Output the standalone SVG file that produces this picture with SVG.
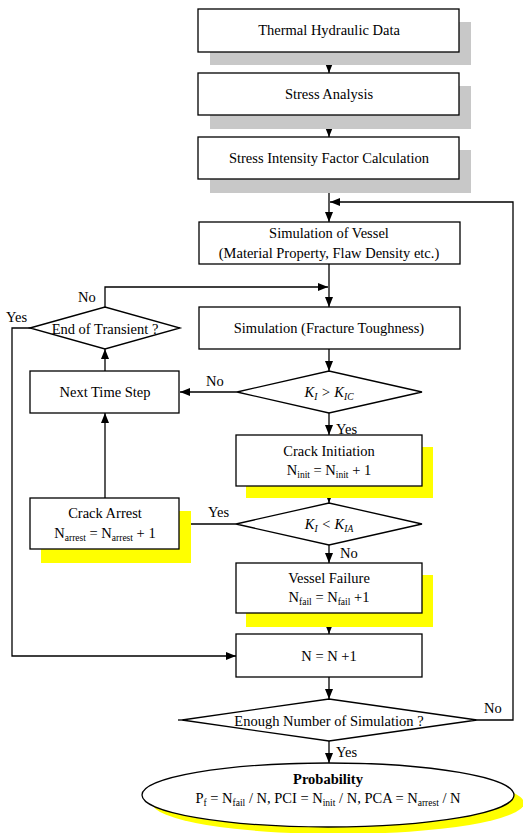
<svg xmlns="http://www.w3.org/2000/svg" width="523" height="833" viewBox="0 0 523 833">
<style>
.box{fill:#fff;stroke:#000;stroke-width:1.3}
.gs{fill:#c8c8c8}
.ys{fill:#ffff00}
.ln{fill:none;stroke:#000;stroke-width:1.3}
text{font-family:"Liberation Serif","DejaVu Serif",serif;font-size:14.5px;fill:#000}
.c{text-anchor:middle}
.i{font-style:italic}
.s{font-size:9.5px}
</style>
<defs>
<marker id="a" markerUnits="userSpaceOnUse" markerWidth="10" markerHeight="8" refX="10" refY="4" orient="auto">
<path d="M0,0 L10,4 L0,8 z" fill="#000"/>
</marker>
</defs>
<rect width="523" height="833" fill="#fff"/>
<g id="connectors" font-family="Liberation Serif, serif">
<line class="ln" x1="329" y1="52" x2="329" y2="73" marker-end="url(#a)"/>
<line class="ln" x1="329" y1="115" x2="329" y2="137" marker-end="url(#a)"/>
<line class="ln" x1="329" y1="179" x2="329" y2="222" marker-end="url(#a)"/>
<polyline class="ln" points="477,720 513,720 513,202 330,202" marker-end="url(#a)"/>
<line class="ln" x1="329" y1="264" x2="329" y2="307" marker-end="url(#a)"/>
<polyline class="ln" points="105,307 105,287 328,287" marker-end="url(#a)"/>
<line class="ln" x1="329" y1="349" x2="329" y2="371" marker-end="url(#a)"/>
<line class="ln" x1="237" y1="392" x2="180" y2="392" marker-end="url(#a)"/>
<line class="ln" x1="105" y1="371" x2="105" y2="349" marker-end="url(#a)"/>
<line class="ln" x1="329" y1="413" x2="329" y2="435" marker-end="url(#a)"/>
<line class="ln" x1="329" y1="486" x2="329" y2="503" marker-end="url(#a)"/>
<line class="ln" x1="236" y1="524" x2="180" y2="524" marker-end="url(#a)"/>
<line class="ln" x1="105" y1="498" x2="105" y2="413" marker-end="url(#a)"/>
<line class="ln" x1="329" y1="545" x2="329" y2="563" marker-end="url(#a)"/>
<polyline class="ln" points="31,328 12,328 12,656 236,656" marker-end="url(#a)"/>
<line class="ln" x1="329" y1="613" x2="329" y2="634" marker-end="url(#a)"/>
<line class="ln" x1="329" y1="677" x2="329" y2="699" marker-end="url(#a)"/>
<line class="ln" x1="329" y1="741" x2="329" y2="763" marker-end="url(#a)"/>
<line class="ln" x1="178" y1="720" x2="182" y2="720"/>
<text x="78" y="302">No</text>
<text x="6" y="322">Yes</text>
<text x="206" y="386">No</text>
<text x="336" y="434">Yes</text>
<text x="208" y="517">Yes</text>
<text x="340" y="558">No</text>
<text x="484" y="713">No</text>
<text x="336" y="757">Yes</text>
</g>
<g id="n1">
<rect class="gs" x="210" y="22" width="261" height="43"/>
<rect class="box" x="198" y="9" width="261" height="43"/>
<text class="c" x="329" y="35">Thermal Hydraulic Data</text>
</g>
<g id="n2">
<rect class="gs" x="210" y="86" width="261" height="43"/>
<rect class="box" x="198" y="73" width="261" height="42"/>
<text class="c" x="329" y="99">Stress Analysis</text>
</g>
<g id="n3">
<rect class="gs" x="210" y="150" width="261" height="43"/>
<rect class="box" x="198" y="137" width="261" height="42"/>
<text class="c" x="329" y="163">Stress Intensity Factor Calculation</text>
</g>
<g id="n4">
<rect class="box" x="199" y="222" width="261" height="42"/>
<text class="c" x="329" y="238">Simulation of Vessel</text>
<text class="c" x="329" y="258">(Material Property, Flaw Density etc.)</text>
</g>
<g id="n5">
<rect class="box" x="199" y="307" width="261" height="42"/>
<text class="c" x="329" y="333">Simulation (Fracture Toughness)</text>
</g>
<g id="n6">
<polygon class="box" points="30,328 105,307 180,328 105,349"/>
<text class="c" x="105" y="334">End of Transient ?</text>
</g>
<g id="n7">
<polygon class="box" points="237,392 329,371 422,392 329,413"/>
<text class="c i" x="329" y="397">K<tspan class="s" dy="3">I</tspan><tspan dy="-3"> &gt; K</tspan><tspan class="s" dy="3">IC</tspan></text>
</g>
<g id="n8">
<rect class="box" x="30" y="371" width="149" height="42"/>
<text class="c" x="105" y="397">Next Time Step</text>
</g>
<g id="n9">
<rect class="ys" x="246" y="447" width="187" height="51"/>
<rect class="box" x="236" y="435" width="186" height="51"/>
<text class="c" x="329" y="456">Crack Initiation</text>
<text class="c" x="329" y="475">N<tspan class="s" dy="3">init</tspan><tspan dy="-3"> = N</tspan><tspan class="s" dy="3">init</tspan><tspan dy="-3"> + 1</tspan></text>
</g>
<g id="n10">
<polygon class="box" points="236,524 329,503 422,524 329,545"/>
<text class="c i" x="329" y="529">K<tspan class="s" dy="3">I</tspan><tspan dy="-3"> &lt; K</tspan><tspan class="s" dy="3">IA</tspan></text>
</g>
<g id="n11">
<rect class="ys" x="41" y="511" width="150" height="52"/>
<rect class="box" x="30" y="498" width="149" height="51"/>
<text class="c" x="105" y="518">Crack Arrest</text>
<text class="c" x="105" y="538">N<tspan class="s" dy="3">arrest</tspan><tspan dy="-3"> = N</tspan><tspan class="s" dy="3">arrest</tspan><tspan dy="-3"> + 1</tspan></text>
</g>
<g id="n12">
<rect class="ys" x="246" y="575" width="187" height="52"/>
<rect class="box" x="236" y="563" width="186" height="50"/>
<text class="c" x="329" y="583">Vessel Failure</text>
<text class="c" x="329" y="602">N<tspan class="s" dy="3">fail</tspan><tspan dy="-3"> = N</tspan><tspan class="s" dy="3">fail</tspan><tspan dy="-3"> +1</tspan></text>
</g>
<g id="n13">
<rect class="box" x="236" y="634" width="186" height="43"/>
<text class="c" x="329" y="661">N = N +1</text>
</g>
<g id="n14">
<polygon class="box" points="182,720 329,699 477,720 329,741"/>
<text class="c" x="329" y="726">Enough Number of Simulation ?</text>
</g>
<g id="n15">
<ellipse class="ys" cx="338" cy="803" rx="186" ry="31"/>
<ellipse class="box" cx="328" cy="795" rx="186" ry="32"/>
<text class="c" x="328" y="784" font-weight="bold">Probability</text>
<text class="c" x="328" y="803">P<tspan class="s" dy="3">f</tspan><tspan dy="-3"> = N</tspan><tspan class="s" dy="3">fail</tspan><tspan dy="-3"> / N, PCI = N</tspan><tspan class="s" dy="3">init</tspan><tspan dy="-3"> / N, PCA = N</tspan><tspan class="s" dy="3">arrest</tspan><tspan dy="-3"> / N</tspan></text>
</g>
</svg>
